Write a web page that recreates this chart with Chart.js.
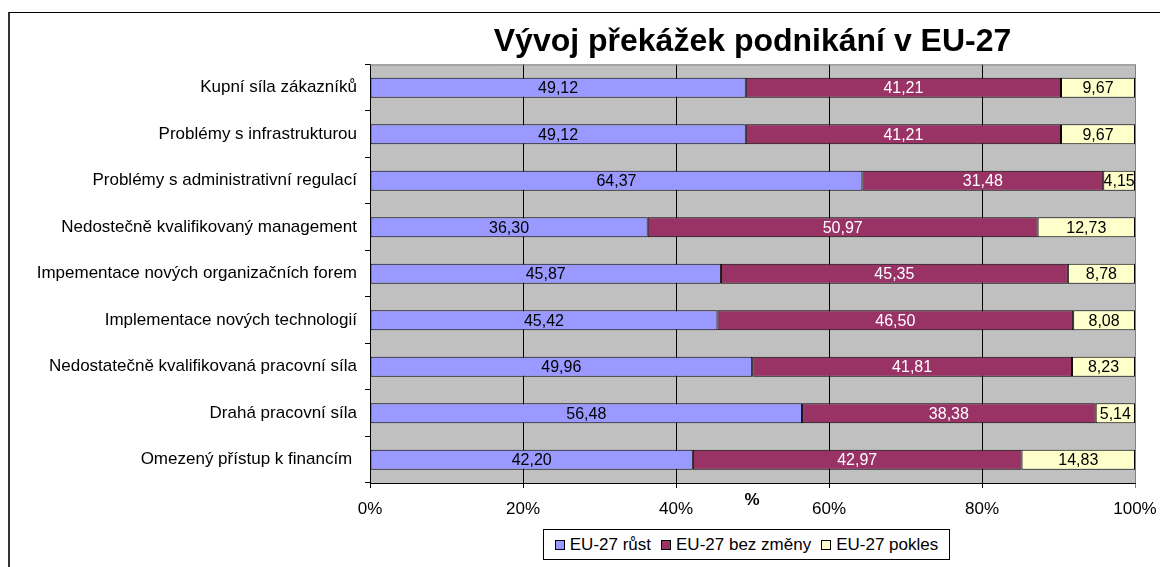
<!DOCTYPE html>
<html>
<head>
<meta charset="utf-8">
<script src="https://cdn.jsdelivr.net/npm/chart.js@4"></script>
<style>
    html, body { margin: 0; padding: 0; background: #fff; overflow: hidden; }
    .frame {
        position: absolute; left: 8px; top: 12px; width: 2000px; height: 2000px;
        border-left: 2px solid #333; border-top: 1px solid #000;
    }
    .wrap { position: absolute; left: 0; top: 0; width: 1160px; height: 567px; }
    #legend {
        position: absolute; left: 543px; top: 529px; width: 405px; height: 29px;
        border: 1px solid #000; background: #fff;
        display: flex; align-items: center; justify-content: center;
        font-family: "Liberation Sans", Arial, sans-serif; font-size: 17px; color: #000;
    }
    #legend .item { display: flex; align-items: center; margin: 0 5px; }
    #legend .box { width: 8px; height: 8px; border: 1px solid #000; margin-right: 5px; }
</style>
</head>
<body>
<div class="frame"></div>
<div class="wrap"><canvas id="chart" width="1160" height="567"></canvas></div>
<div id="legend"></div>
<script>
// data
const categories = [
    "Kupní síla zákazníků",
    "Problémy s infrastrukturou",
    "Problémy s administrativní regulací",
    "Nedostečně kvalifikovaný management",
    "Impementace nových organizačních forem",
    "Implementace nových technologií",
    "Nedostatečně kvalifikovaná pracovní síla",
    "Drahá pracovní síla",
    "Omezený přístup k financím "
];
const rust = [49.12, 49.12, 64.37, 36.30, 45.87, 45.42, 49.96, 56.48, 42.20];
const bezZmeny = [41.21, 41.21, 31.48, 50.97, 45.35, 46.50, 41.81, 38.38, 42.97];
const pokles = [9.67, 9.67, 4.15, 12.73, 8.78, 8.08, 8.23, 5.14, 14.83];
const seriesNames = ["EU-27 růst", "EU-27 bez změny", "EU-27 pokles"];
const xTicks = [0, 20, 40, 60, 80, 100];

const colors = ["#9999FF", "#993366", "#FFFFCC"];
const labelColors = ["#000", "#fff", "#000"];

Chart.defaults.font.family = '"Liberation Sans", Arial, sans-serif';
Chart.defaults.color = "#000";

// gray plot background + borders
const plotArea = {
    id: "plotArea",
    beforeDraw(chart) {
        const a = chart.chartArea;
        const ctx = chart.ctx;
        ctx.save();
        ctx.fillStyle = "#C0C0C0";
        ctx.fillRect(a.left, a.top, a.right - a.left, a.bottom - a.top);
        ctx.restore();
    },
    afterDraw(chart) {
        const a = chart.chartArea;
        const ctx = chart.ctx;
        ctx.save();
        ctx.strokeStyle = "#808080";
        ctx.lineWidth = 1;
        ctx.beginPath();
        ctx.moveTo(a.left, a.top + 0.5);
        ctx.lineTo(a.right + 0.5, a.top + 0.5);
        ctx.lineTo(a.right + 0.5, a.bottom);
        ctx.stroke();
        // "%" axis caption
        ctx.fillStyle = "#000";
        ctx.font = 'bold 17px "Liberation Sans", Arial, sans-serif';
        ctx.textAlign = "center";
        ctx.textBaseline = "middle";
        ctx.fillText("%", 752, 500);
        ctx.restore();
    }
};

// value labels inside the bars
const barLabels = {
    id: "barLabels",
    afterDatasetsDraw(chart) {
        const ctx = chart.ctx;
        ctx.save();
        ctx.font = '16px "Liberation Sans", Arial, sans-serif';
        ctx.textAlign = "center";
        ctx.textBaseline = "middle";
        chart.data.datasets.forEach(function (ds, i) {
            const meta = chart.getDatasetMeta(i);
            meta.data.forEach(function (el, j) {
                const p = el.getCenterPoint();
                ctx.fillStyle = labelColors[i];
                ctx.fillText(ds.data[j].toFixed(2).replace(".", ","), p.x, p.y + 1);
            });
        });
        ctx.restore();
    }
};

const seriesData = [rust, bezZmeny, pokles];

const chart = new Chart(document.getElementById("chart"), {
    type: "bar",
    data: {
        labels: categories,
        datasets: seriesData.map(function (d, i) {
            return {
                label: seriesNames[i],
                data: d,
                backgroundColor: colors[i],
                borderColor: "#000",
                borderWidth: 1,
                borderSkipped: false,
                barPercentage: 0.43,
                categoryPercentage: 1
            };
        })
    },
    options: {
        indexAxis: "y",
        responsive: false,
        animation: false,
        layout: { padding: { left: 0, right: 25, top: 0, bottom: 0 } },
        scales: {
            x: {
                stacked: true,
                min: 0,
                max: 100,
                afterBuildTicks: function (scale) {
                    scale.ticks = xTicks.map(function (v) { return { value: v }; });
                },
                afterFit: function (scale) {
                    scale.height = 84;
                    scale.paddingLeft = 0;
                    scale.paddingRight = 0;
                },
                ticks: {
                    font: { size: 17 },
                    padding: 11,
                    callback: function (v) { return v + "%"; }
                },
                grid: {
                    color: function (c) { return c.tick && c.tick.value === 100 ? "#808080" : "#000"; },
                    tickLength: 5,
                    lineWidth: 1
                },
                border: { color: "#000", width: 1 }
            },
            y: {
                stacked: true,
                afterFit: function (scale) { scale.width = 370; },
                ticks: { font: { size: 17 }, padding: 8 },
                grid: { drawOnChartArea: false, tickLength: 5, color: "#000", offset: true },
                border: { color: "#000", width: 1 }
            }
        },
        plugins: {
            legend: { display: false },
            tooltip: { enabled: false },
            title: {
                display: true,
                text: "Vývoj překážek podnikání v EU-27",
                fullSize: false,
                color: "#000",
                font: { size: 32, weight: "bold" },
                padding: { top: 23, bottom: 3 }
            }
        }
    },
    plugins: [plotArea, barLabels]
});

// legend
const legend = document.getElementById("legend");
seriesNames.forEach(function (name, i) {
    const item = document.createElement("div");
    item.className = "item";
    const box = document.createElement("span");
    box.className = "box";
    box.style.background = colors[i];
    const txt = document.createElement("span");
    txt.textContent = name;
    item.appendChild(box);
    item.appendChild(txt);
    legend.appendChild(item);
});
</script>
</body>
</html>
